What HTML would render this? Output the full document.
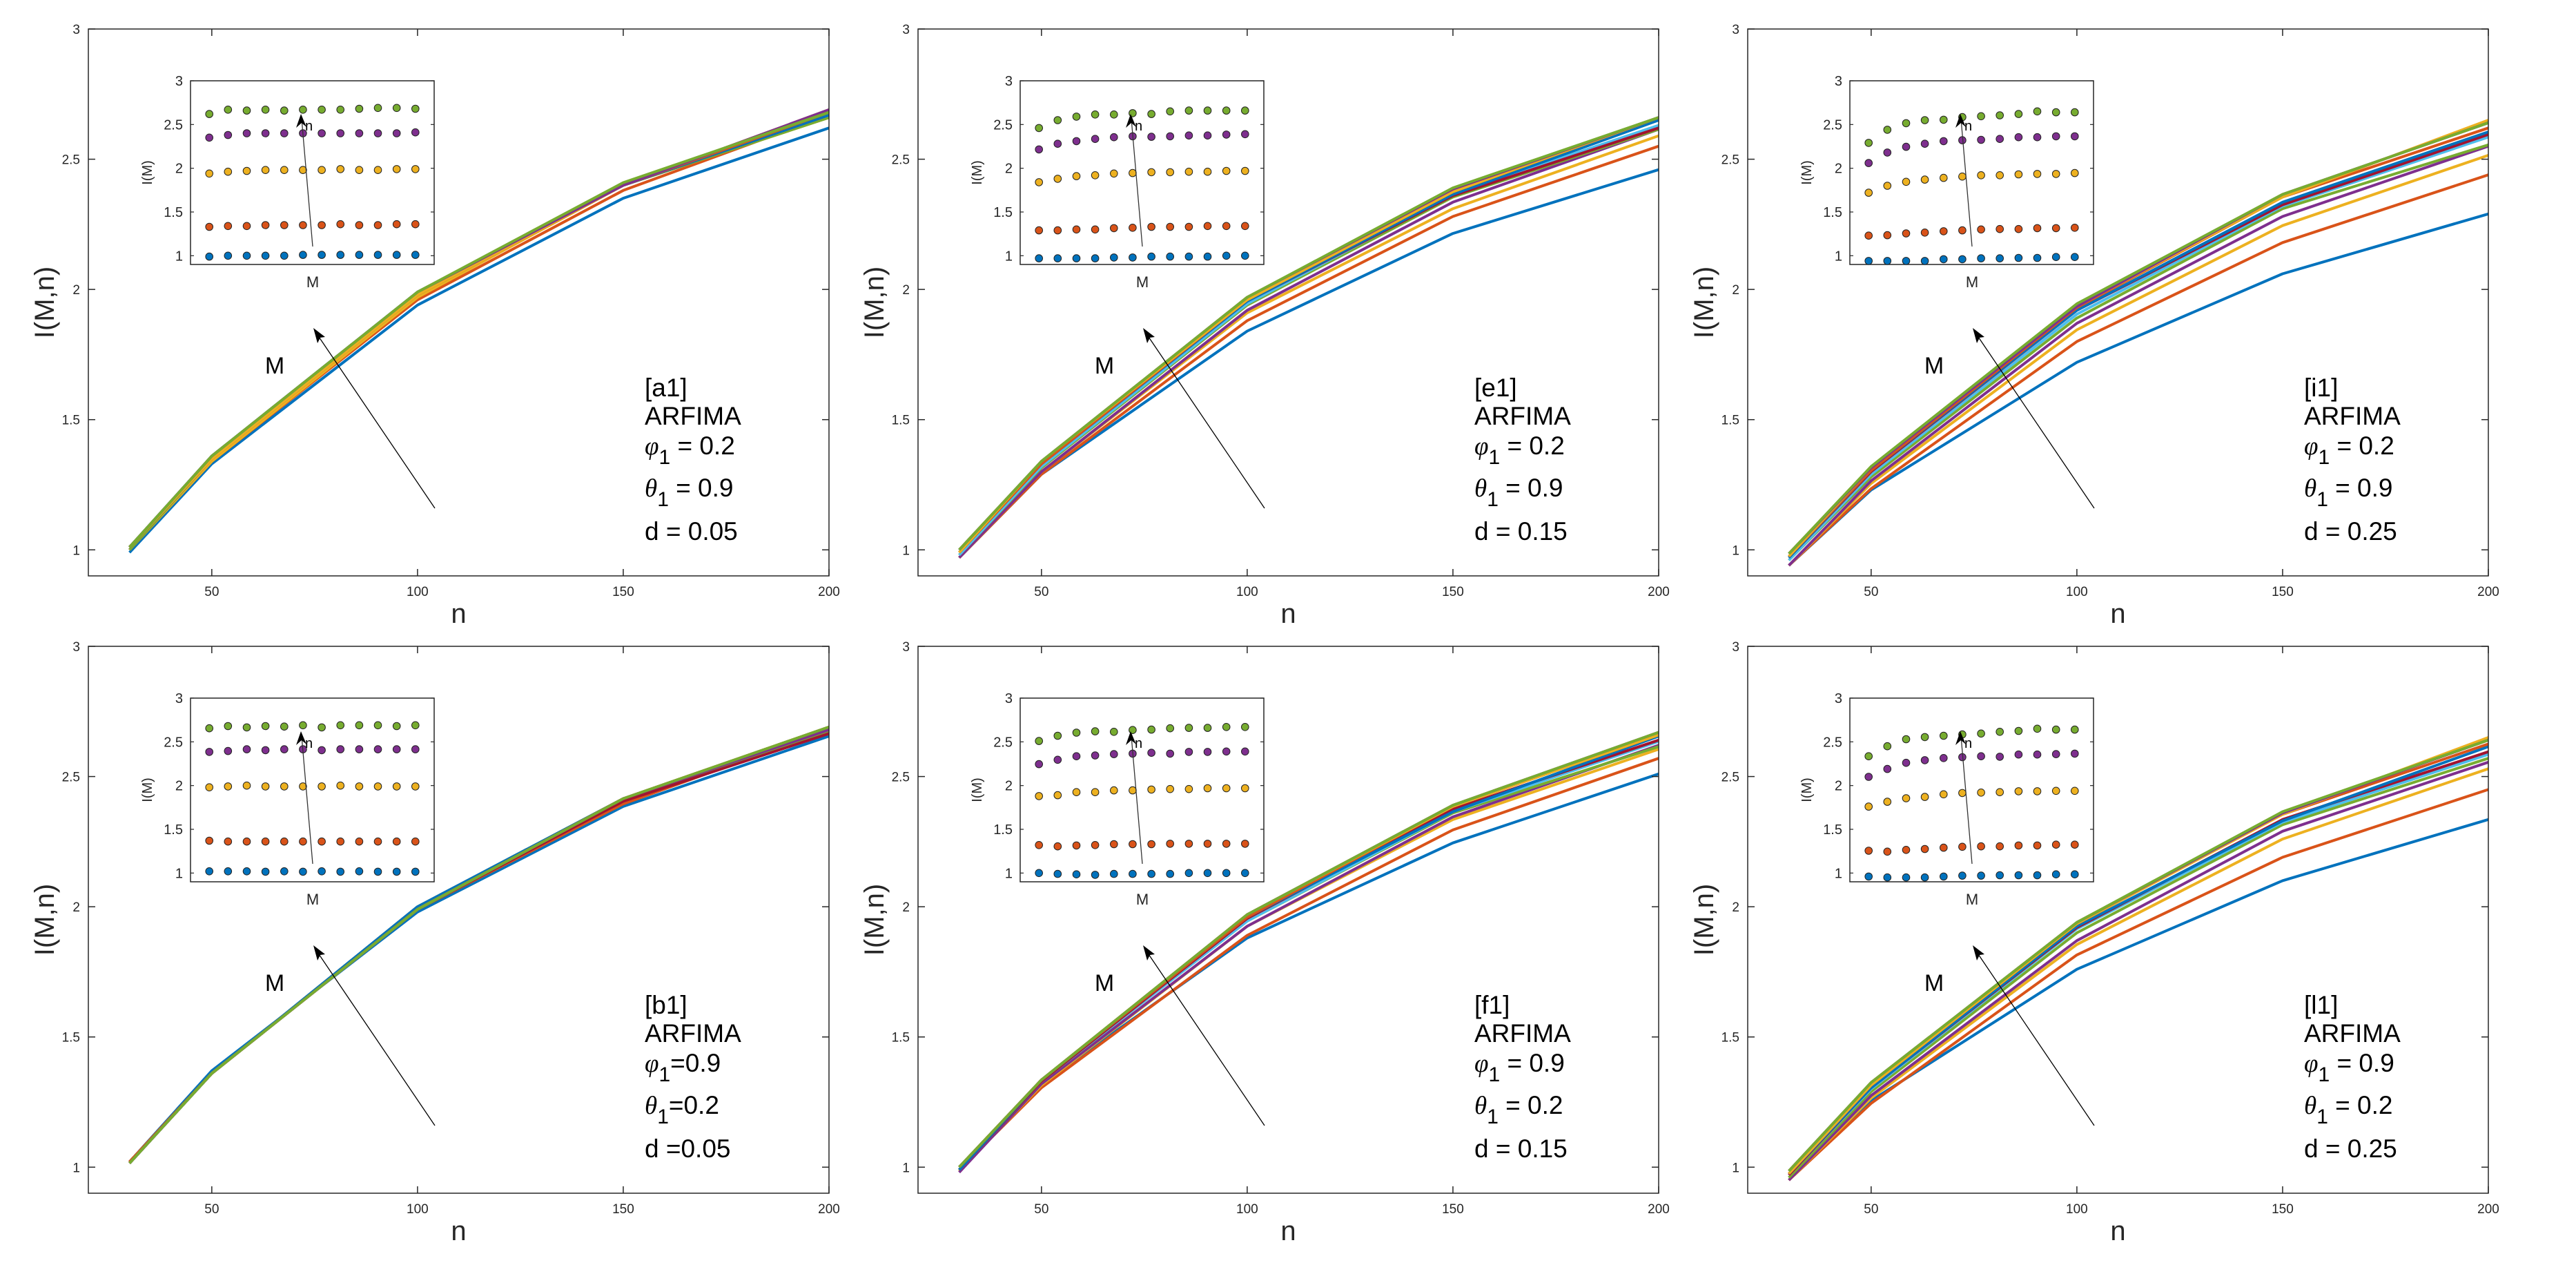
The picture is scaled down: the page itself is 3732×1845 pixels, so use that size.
<!DOCTYPE html>
<html><head><meta charset="utf-8"><style>
html,body{margin:0;padding:0;background:#fff;}
svg text{font-family:"Liberation Sans",sans-serif;}
</style></head><body>
<svg id="fig" xmlns="http://www.w3.org/2000/svg" width="3732" height="1840" viewBox="0 0 3732 1840"></svg>
<script>
// sample sizes n (main x axis) and inset M index
const nVals = [30, 50, 100, 150, 200];
const mVals = [1,2,3,4,5,6,7,8,9,10,11,12];
const mainXTicks = [50, 100, 150, 200];
const mainYTicks = [1, 1.5, 2, 2.5, 3];
const mainYTickLabels = ["1", "1.5", "2", "2.5", "3"];
const insetYTicks = [1, 1.5, 2, 2.5, 3];
const insetYTickLabels = ["1", "1.5", "2", "2.5", "3"];
// values[nIndex][MIndex]
const valsA1 = [
 [0.99,1.0,1.0,1.0,1.0,1.01,1.01,1.01,1.01,1.01,1.01,1.01],
 [1.33,1.34,1.34,1.35,1.35,1.35,1.35,1.36,1.35,1.35,1.36,1.36],
 [1.94,1.96,1.97,1.98,1.98,1.98,1.98,1.99,1.98,1.98,1.99,1.99],
 [2.35,2.38,2.40,2.40,2.40,2.40,2.40,2.40,2.40,2.40,2.40,2.41],
 [2.62,2.67,2.66,2.67,2.66,2.67,2.67,2.67,2.68,2.69,2.69,2.68]];
const valsE1 = [
 [0.97,0.97,0.97,0.97,0.98,0.98,0.99,0.99,0.99,0.99,1.0,1.0],
 [1.29,1.29,1.30,1.30,1.315,1.32,1.33,1.33,1.33,1.34,1.34,1.34],
 [1.84,1.88,1.91,1.92,1.94,1.945,1.955,1.955,1.96,1.96,1.97,1.97],
 [2.215,2.28,2.31,2.335,2.355,2.365,2.36,2.365,2.375,2.375,2.385,2.39],
 [2.46,2.55,2.59,2.615,2.615,2.63,2.62,2.65,2.66,2.66,2.66,2.66]];
const valsI1 = [
 [0.94,0.94,0.94,0.94,0.96,0.96,0.97,0.97,0.975,0.975,0.985,0.985],
 [1.23,1.235,1.255,1.265,1.28,1.29,1.30,1.305,1.305,1.315,1.315,1.32],
 [1.72,1.80,1.845,1.87,1.89,1.905,1.92,1.92,1.93,1.935,1.935,1.945],
 [2.06,2.18,2.245,2.28,2.31,2.32,2.325,2.335,2.355,2.355,2.365,2.365],
 [2.29,2.44,2.515,2.55,2.555,2.585,2.595,2.605,2.62,2.65,2.64,2.64]];
const valsB1 = [
 [1.02,1.02,1.02,1.015,1.02,1.015,1.02,1.015,1.02,1.015,1.015,1.015],
 [1.37,1.36,1.36,1.36,1.36,1.36,1.36,1.36,1.36,1.36,1.36,1.36],
 [1.98,1.99,2.0,1.99,1.99,1.99,1.99,2.0,1.99,1.99,1.99,1.99],
 [2.385,2.395,2.415,2.405,2.415,2.415,2.405,2.415,2.415,2.415,2.415,2.415],
 [2.655,2.68,2.665,2.68,2.675,2.69,2.665,2.69,2.69,2.69,2.68,2.69]];
const valsF1 = [
 [1.0,0.99,0.985,0.98,0.99,0.99,0.99,0.99,1.0,1.0,1.0,1.0],
 [1.32,1.305,1.315,1.32,1.33,1.33,1.33,1.335,1.335,1.335,1.335,1.335],
 [1.88,1.89,1.925,1.925,1.945,1.945,1.955,1.96,1.96,1.97,1.97,1.97],
 [2.245,2.295,2.335,2.345,2.36,2.365,2.375,2.365,2.385,2.385,2.39,2.39],
 [2.51,2.57,2.605,2.62,2.615,2.635,2.64,2.655,2.66,2.66,2.67,2.67]];
const valsL1 = [
 [0.96,0.95,0.95,0.95,0.96,0.97,0.97,0.975,0.975,0.975,0.985,0.985],
 [1.255,1.245,1.265,1.275,1.29,1.30,1.305,1.305,1.315,1.315,1.325,1.325],
 [1.76,1.815,1.855,1.87,1.90,1.915,1.92,1.925,1.935,1.935,1.94,1.94],
 [2.10,2.19,2.26,2.29,2.315,2.325,2.335,2.33,2.355,2.355,2.36,2.365],
 [2.335,2.45,2.53,2.555,2.57,2.585,2.595,2.615,2.625,2.65,2.64,2.64]];
const panelIds = ["a1","e1","i1","b1","f1","l1"];
const panelPhi = ["= 0.2","= 0.2","= 0.2","=0.9","= 0.9","= 0.9"];
const panelTheta = ["= 0.9","= 0.9","= 0.9","=0.2","= 0.2","= 0.2"];
const panelD = ["d = 0.05","d = 0.15","d = 0.25","d =0.05","d = 0.15","d = 0.25"];
const panelVals = [valsA1, valsE1, valsI1, valsB1, valsF1, valsL1];

const lineColors = ["#0072BD","#D95319","#EDB120","#7E2F8E","#77AC30","#4DBEEE","#A2142F"];
const NS = "http://www.w3.org/2000/svg";
const svg = document.getElementById("fig");
function mk(tag, attrs, parent){const e=document.createElementNS(NS,tag);for(const k in attrs)e.setAttribute(k,attrs[k]);(parent||svg).appendChild(e);return e;}

const PW=1073, PH=792;
for(let p=0;p<6;p++){
  const col=p%3,row=Math.floor(p/3);
  const L=128+1202*col, T=42+894*row;
  const vals=panelVals[p];
  const g=mk("g",{transform:`translate(${L},${T})`});
  
  
  const sx=v=>(v-20)/180*PW;
  const sy=v=>PH-(v-0.9)/2.1*PH;
  // lines
  const lg=mk("g",{},g);
  
  
  for(let m=0;m<mVals.length;m++){
    const pts=nVals.map((n,k)=>sx(n).toFixed(1)+","+sy(vals[k][m]).toFixed(1)).join(" ");
    const pl=mk("polyline",{points:pts,fill:"none",stroke:lineColors[m%7],"stroke-width":4,"stroke-linejoin":"round"},lg);
    
    
  }
  // axes box
  const box=mk("rect",{x:0,y:0,width:PW,height:PH,fill:"none",stroke:"#262626","stroke-width":1.5},g);
  
  
  mainXTicks.forEach(t=>{
    const x=sx(t);
    mk("line",{x1:x,y1:PH,x2:x,y2:PH-10,stroke:"#262626","stroke-width":1.5},g);
    mk("line",{x1:x,y1:0,x2:x,y2:10,stroke:"#262626","stroke-width":1.5},g);
    const tl=mk("text",{x:x,y:PH+29,"font-size":19,fill:"#262626","text-anchor":"middle"},g);tl.textContent=t;
    
    
  });
  mainYTicks.forEach((t,i)=>{
    const y=sy(t);
    mk("line",{x1:0,y1:y,x2:10,y2:y,stroke:"#262626","stroke-width":1.5},g);
    mk("line",{x1:PW,y1:y,x2:PW-10,y2:y,stroke:"#262626","stroke-width":1.5},g);
    const tl=mk("text",{x:-12,y:y+7,"font-size":19,fill:"#262626","text-anchor":"end"},g);tl.textContent=mainYTickLabels[i];
    
    
  });
  const xl=mk("text",{x:PW/2,y:PH+68,"font-size":40,fill:"#262626","text-anchor":"middle"},g);xl.textContent="n";
  
  
  const yl=mk("text",{x:0,y:0,"font-size":40,fill:"#262626","text-anchor":"middle",transform:`translate(-50,${PH/2}) rotate(-90)`},g);yl.textContent="I(M,n)";
  
  
  // main arrow
  mk("line",{x1:502,y1:694,x2:330,y2:440,stroke:"#000","stroke-width":1.3},g);
  const ah=mk("polygon",{points:"326,433 343,446 336,447 332,455",fill:"#000"},g);
  
  
  const ml=mk("text",{x:270,y:499,"font-size":34,fill:"#000","text-anchor":"middle"},g);ml.textContent="M";
  
  
  // annotation
  const ag=mk("g",{"font-size":37,fill:"#000"},g);
  
  
  const t1=mk("text",{x:806,y:532},ag);t1.textContent="["+panelIds[p]+"]";
  const t2=mk("text",{x:806,y:573},ag);t2.textContent="ARFIMA";
  const t3=mk("text",{x:806,y:616},ag);
  mk("tspan",{"font-family":"Liberation Serif,serif","font-style":"italic"},t3).textContent="φ";
  mk("tspan",{dy:14,"font-size":30},t3).textContent="1";
  mk("tspan",{dy:-14},t3).textContent=panelPhi[p].startsWith("=")&&p<3?" "+panelPhi[p]:(p===3?panelPhi[p]:" "+panelPhi[p]);
  const t4=mk("text",{x:806,y:677},ag);
  mk("tspan",{"font-family":"Liberation Serif,serif","font-style":"italic"},t4).textContent="θ";
  mk("tspan",{dy:14,"font-size":30},t4).textContent="1";
  mk("tspan",{dy:-14},t4).textContent=(p===3?panelTheta[p]:" "+panelTheta[p]);
  const t5=mk("text",{x:806,y:740},ag);t5.textContent=panelD[p];

  // inset
  const IW=353, IH=266;
  const ig=mk("g",{transform:"translate(148,75)"},g);
  
  
  mk("rect",{x:0,y:0,width:IW,height:IH,fill:"#fff",stroke:"#262626","stroke-width":1.5},ig);
  const ix=v=>v/13*IW;
  const iy=v=>IH-(v-0.9)/2.1*IH;
  insetYTicks.forEach((t,i)=>{
    const y=iy(t);
    mk("line",{x1:0,y1:y,x2:5,y2:y,stroke:"#262626","stroke-width":1.2},ig);
    mk("line",{x1:IW,y1:y,x2:IW-5,y2:y,stroke:"#262626","stroke-width":1.2},ig);
    const tl=mk("text",{x:-11,y:y+7,"font-size":20,fill:"#262626","text-anchor":"end"},ig);tl.textContent=insetYTickLabels[i];
    
    
  });
  for(let k=0;k<nVals.length;k++){
    for(let m=0;m<mVals.length;m++){
      const c=mk("circle",{cx:ix(mVals[m]).toFixed(1),cy:iy(vals[k][m]).toFixed(1),r:5.3,fill:lineColors[k],stroke:"#222","stroke-width":1},ig);
      
      
    }
  }
  mk("line",{x1:177,y1:240,x2:161,y2:55,stroke:"#333","stroke-width":1.3},ig);
  mk("polygon",{points:"160,48 168,67 161,61 153,68",fill:"#000"},ig);
  const nl=mk("text",{x:166,y:72,"font-size":20,fill:"#000"},ig);nl.textContent="n";
  
  
  const iml=mk("text",{x:177,y:299,"font-size":22,fill:"#262626","text-anchor":"middle"},ig);iml.textContent="M";
  
  
  const iyl=mk("text",{x:0,y:0,"font-size":20,fill:"#262626","text-anchor":"middle",transform:`translate(-56,${IH/2}) rotate(-90)`},ig);iyl.textContent="I(M)";
  
  
}
</script>
</body></html>
